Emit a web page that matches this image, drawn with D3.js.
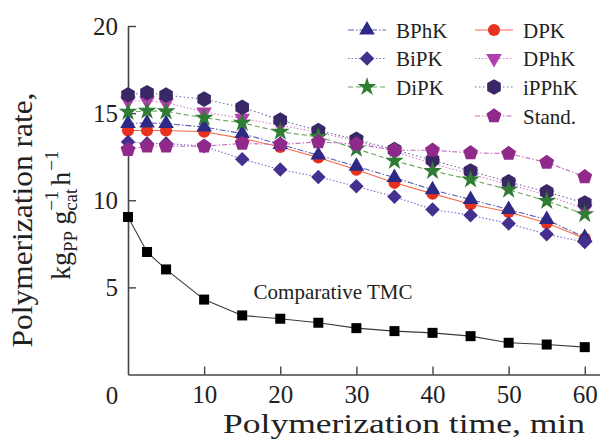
<!DOCTYPE html>
<html>
<head>
<meta charset="utf-8">
<script src="https://cdn.jsdelivr.net/npm/d3@7"></script>
<style>
  body { margin: 0; background: #fff; }
  svg text { font-family: "Liberation Serif", "Times New Roman", serif; fill: #222; }
</style>
</head>
<body>
<div id="chart"></div>
<script>
// data
var times = [0, 2.5, 5, 10, 15, 20, 25, 30, 35, 40, 45, 50, 55, 60];
var bphk  = [14.4, 14.44, 14.4, 14.2, 13.83, 13.2, 12.59, 11.95, 11.3, 10.6, 10.04, 9.47, 8.89, 7.86];
var bipk  = [13.35, 13.26, 13.26, 13.1, 12.36, 11.76, 11.34, 10.8, 10.2, 9.47, 9.14, 8.66, 8.05, 7.6];
var dipk  = [15.07, 15.13, 15.1, 14.73, 14.44, 13.93, 13.64, 12.95, 12.26, 11.68, 11.19, 10.6, 9.96, 9.2];
var dpk   = [14.0, 14.0, 14.0, 13.93, 13.55, 13.06, 12.45, 11.75, 11.0, 10.38, 9.77, 9.33, 8.7, 7.8];
var dphk  = [15.7, 15.7, 15.6, 15.07, 14.7, 14.3, 13.9, 13.4, 12.8, 12.1, 11.5, 10.9, 10.3, 9.5];
var ipphk = [16.05, 16.17, 16.03, 15.8, 15.33, 14.6, 14.0, 13.49, 12.9, 12.3, 11.68, 11.05, 10.48, 9.84];
var stand = [12.9, 13.1, 13.1, 13.1, 13.26, 13.2, 13.35, 13.22, 12.87, 12.87, 12.72, 12.68, 12.17, 11.34];
var tmc   = [9.04, 7.03, 6.03, 4.3, 3.39, 3.2, 2.97, 2.66, 2.49, 2.39, 2.2, 1.82, 1.72, 1.57];
var xTicks = [10, 20, 30, 40, 50, 60];
var yTicks = [5, 10, 15, 20];

var W = 600, H = 439;
var svg = d3.select("#chart").append("svg").attr("width", W).attr("height", H);

var x = d3.scaleLinear().domain([0, 62]).range([128, 600]);
var y = d3.scaleLinear().domain([0, 20]).range([374.5, 26]);

// custom polygon symbols
function polygon(n) {
    return {
        draw: function (ctx, size) {
            var r = Math.sqrt(size / (0.5 * n * Math.sin(2 * Math.PI / n)));
            for (var i = 0; i < n; i++) {
                var a = -Math.PI / 2 + i * 2 * Math.PI / n;
                var px = r * Math.cos(a), py = r * Math.sin(a);
                i ? ctx.lineTo(px, py) : ctx.moveTo(px, py);
            }
            ctx.closePath();
        }
    };
}

// draw order: later ones sit on top
var series = [
    {name: "DPK",   v: dpk,   sym: d3.symbolCircle,   size: 115, rot: 0,   fill: "#e8321f", line: "#f36a4a", dash: null,        lx: 475, row: 0},
    {name: "BPhK",  v: bphk,  sym: d3.symbolTriangle, size: 105, rot: 0,   fill: "#2d2a85", line: "#5b5fb5", dash: "6,2,1.5,2", lx: 348, row: 0},
    {name: "BiPK",  v: bipk,  sym: d3.symbolSquare,   size: 105, rot: 45,  fill: "#46308f", line: "#7a6ad0", dash: "1.5,2",     lx: 348, row: 1},
    {name: "DPhK",  v: dphk,  sym: d3.symbolTriangle, size: 105, rot: 180, fill: "#b23fae", line: "#d77fd0", dash: "1.5,2",     lx: 475, row: 1},
    {name: "iPPhK", v: ipphk, sym: polygon(6),        size: 160, rot: 0,   fill: "#3a2766", line: "#6d6aa8", dash: "1.5,2.5",   lx: 475, row: 2},
    {name: "DiPK",  v: dipk,  sym: d3.symbolStar,     size: 110, rot: 0,   fill: "#2f7d34", line: "#66a35a", dash: "5,3",       lx: 348, row: 2},
    {name: "Stand.",v: stand, sym: polygon(5),        size: 145, rot: 0,   fill: "#8f2a8b", line: "#c66cbf", dash: "5,2,1.5,2", lx: 475, row: 3}
];

// axes
var xAxis = d3.axisBottom(x).tickValues(xTicks).tickSizeInner(-8).tickSizeOuter(0).tickPadding(11);
var gx = svg.append("g").attr("transform", "translate(0," + y(0) + ")").call(xAxis);
var yAxis = d3.axisLeft(y).tickValues(yTicks).tickSizeInner(-8).tickSizeOuter(0).tickPadding(10);
var gy = svg.append("g").attr("transform", "translate(" + x(0) + ",0)").call(yAxis);
[gx, gy].forEach(function (g) {
    g.select(".domain").attr("stroke", "#444").attr("stroke-width", 1.6);
    g.selectAll(".tick line").attr("stroke", "#444").attr("stroke-width", 1.4);
    g.selectAll(".tick text").attr("font-size", 25).attr("fill", "#222")
        .style("font-family", "'Liberation Serif', serif");
});
// shared zero in the corner
svg.append("text").attr("x", x(0) - 16).attr("y", y(0) + 29).attr("font-size", 25)
    .attr("text-anchor", "middle").text("0");

// axis titles
svg.append("text").attr("x", 404).attr("y", 433).attr("font-size", 28)
    .attr("text-anchor", "middle").attr("textLength", 362).attr("lengthAdjust", "spacingAndGlyphs")
    .text("Polymerization time, min");

svg.append("text").attr("transform", "translate(32,220) rotate(-90)").attr("font-size", 29)
    .attr("text-anchor", "middle").attr("textLength", 255).attr("lengthAdjust", "spacingAndGlyphs")
    .text("Polymerization rate,");

var yt = svg.append("g").attr("transform", "translate(70,280) rotate(-90)");
var pieces = [
    {t: "kg", s: 28, dy: 0},
    {t: "PP", s: 19, dy: 7, gap: 6},
    {stack: [{t: "cat", s: 19, dy: 7}, {t: "\u22121", s: 19, dy: -12}], gap: 3},
    {t: "h", s: 28, dy: 0, gap: 1},
    {t: "\u22121", s: 19, dy: -12}
];
var px = 0;
pieces.forEach(function (p, i) {
    if (i === 2) {
        var g1 = yt.append("text").attr("x", px).attr("y", 0).attr("font-size", 28).text("g");
        px += g1.node().getComputedTextLength();
    }
    if (p.stack) {
        var w = 0;
        p.stack.forEach(function (q) {
            var t = yt.append("text").attr("x", px).attr("y", q.dy).attr("font-size", q.s).text(q.t);
            w = Math.max(w, t.node().getComputedTextLength());
        });
        px += w + (p.gap || 0);
    } else {
        var t = yt.append("text").attr("x", px).attr("y", p.dy).attr("font-size", p.s).text(p.t);
        px += t.node().getComputedTextLength() + (p.gap || 0);
    }
});

// TMC curve
var line = d3.line().x(function (d) { return x(d[0]); }).y(function (d) { return y(d[1]); });
var tmcPts = times.map(function (t, i) { return [t, tmc[i]]; });
svg.append("path").attr("d", line(tmcPts)).attr("fill", "none").attr("stroke", "#3a3a3a").attr("stroke-width", 1.1);
svg.selectAll(".tmc").data(tmcPts).enter().append("rect").attr("class", "tmc")
    .attr("x", function (d) { return x(d[0]) - 5; }).attr("y", function (d) { return y(d[1]) - 5; })
    .attr("width", 10).attr("height", 10).attr("fill", "#000");
svg.append("text").attr("x", x(16.5)).attr("y", y(4.35)).attr("font-size", 21).text("Comparative TMC");

// catalyst series: lines first, then markers
series.forEach(function (s) {
    var pts = times.map(function (t, i) { return [t, s.v[i]]; });
    svg.append("path").attr("d", line(pts)).attr("fill", "none").attr("stroke", s.line)
        .attr("stroke-width", 1.1).attr("stroke-dasharray", s.dash);
});
series.forEach(function (s) {
    var pts = times.map(function (t, i) { return [t, s.v[i]]; });
    var sym = d3.symbol().type(s.sym).size(s.size);
    svg.append("g").selectAll("path").data(pts).enter().append("path").attr("d", sym)
        .attr("transform", function (d) { return "translate(" + x(d[0]) + "," + y(d[1]) + ") rotate(" + s.rot + ")"; })
        .attr("fill", s.fill);
});

// legend
var rowY = [30, 58.5, 87, 116];
series.forEach(function (s) {
    var g = svg.append("g").attr("transform", "translate(" + s.lx + "," + rowY[s.row] + ")");
    g.append("line").attr("x1", 0).attr("x2", 38).attr("stroke", s.line).attr("stroke-width", 1.1)
        .attr("stroke-dasharray", s.dash);
    g.append("path").attr("d", d3.symbol().type(s.sym).size(s.size)).attr("fill", s.fill)
        .attr("transform", "translate(19,0) rotate(" + s.rot + ")");
    g.append("text").attr("x", 48).attr("y", 7.5).attr("font-size", 21).text(s.name);
});
</script>
</body>
</html>
